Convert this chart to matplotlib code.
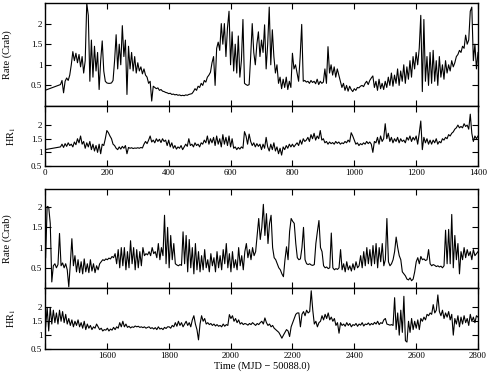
"""Two-epoch light curve: count rate and hardness ratio, split at day 1400."""

import matplotlib
matplotlib.use("Agg")
import matplotlib.pyplot as plt
import numpy as np

# ---- data (5-day steps, one row = 50 days) ----
# first epoch: one point at t=0, then 50 .. 1400
rate_a = [0.38,
    0.52, 0.62, 0.32, 0.60, 0.68, 0.62, 0.75, 1.00, 1.32, 1.10,
    1.28, 1.05, 1.25, 0.95, 1.20, 0.80, 1.10, 2.50, 2.20, 0.60,
    1.60, 0.70, 1.45, 0.85, 1.30, 0.40, 1.10, 1.58, 0.85, 0.60,
    0.56, 0.55, 0.55, 0.56, 0.62, 1.10, 1.73, 0.90, 1.50, 1.00,
    1.95, 1.20, 1.60, 0.28, 1.45, 0.90, 1.30, 0.85, 1.20, 0.80,
    1.05, 0.85, 0.95, 0.78, 0.90, 0.75, 0.70, 0.55, 0.60, 0.12,
    0.48, 0.45, 0.42, 0.44, 0.38, 0.40, 0.36, 0.35, 0.33, 0.32,
    0.30, 0.31, 0.28, 0.29, 0.27, 0.28, 0.26, 0.27, 0.25, 0.26,
    0.25, 0.27, 0.26, 0.28, 0.29, 0.30, 0.35, 0.42, 0.38, 0.48,
    0.45, 0.55, 0.50, 0.62, 0.58, 0.70, 0.75, 0.82, 1.05, 1.20,
    0.50, 1.40, 1.55, 1.35, 2.00, 1.50, 2.00, 1.20, 1.90, 2.30,
    1.00, 1.80, 0.85, 1.50, 0.80, 1.70, 0.70, 1.10, 2.10, 0.55,
    0.52, 0.50, 0.52, 1.20, 2.00, 1.30, 1.00, 1.50, 1.80, 1.20,
    1.60, 1.30, 1.97, 0.90, 1.50, 2.40, 1.00, 1.85, 1.20, 0.80,
    1.00, 0.55, 0.70, 0.42, 0.65, 0.45, 0.70, 0.40, 0.60, 0.45,
    1.28, 0.90, 1.00, 0.80, 0.60, 1.20, 1.98, 0.60, 0.62, 0.58,
    0.60, 0.55, 0.62, 0.57, 0.60, 0.54, 0.65, 0.52, 0.60, 0.55,
    0.58, 0.90, 0.55, 1.44, 0.80, 1.00, 0.75, 0.95, 0.70, 0.90,
    0.75, 0.60, 0.45, 0.55, 0.38, 0.50, 0.36, 0.48, 0.40, 0.35,
    0.42, 0.38, 0.45, 0.44, 0.48, 0.50, 0.47, 0.55, 0.60, 0.52,
    0.62, 0.68, 0.73, 0.45, 0.60, 0.38, 0.65, 0.42, 0.55, 0.40,
    0.60, 0.45, 0.70, 0.50, 0.80, 0.48, 0.75, 0.55, 0.90, 0.50,
    0.85, 0.60, 1.00, 0.55, 0.95, 0.65, 1.10, 0.70, 1.20, 0.90,
    1.30, 1.00, 1.40, 2.20, 0.35, 2.10, 0.60, 1.20, 0.50, 1.30,
    0.55, 1.35, 0.60, 1.10, 0.50, 1.20, 0.70, 1.00, 0.65, 1.10,
    0.80, 1.00, 0.85, 1.10, 0.95, 1.05, 1.20, 1.25, 1.35, 1.30,
    1.45, 1.40, 1.72, 1.50, 1.60, 2.30, 2.40, 1.10, 1.50, 0.90,
    1.30]

hr_a = [1.10,
    1.20, 1.30, 1.18, 1.32, 1.22, 1.35, 1.25, 1.30, 1.20, 1.38,
    1.28, 1.50, 1.35, 1.60, 1.30, 1.40, 1.15, 1.35, 1.20, 1.40,
    1.10, 1.30, 1.05, 1.25, 1.00, 1.30, 0.95, 1.30, 1.25, 1.50,
    1.80, 1.72, 1.60, 1.50, 1.30, 1.25, 1.15, 1.10, 1.20, 1.12,
    1.22, 1.15, 1.25, 0.95, 1.18, 1.15, 1.17, 1.14, 1.16, 1.15,
    1.17, 1.15, 1.18, 1.16, 1.30, 1.40, 1.32, 1.45, 1.60, 1.38,
    1.45, 1.35, 1.50, 1.40, 1.48, 1.36, 1.50, 1.40, 1.45, 1.25,
    1.45, 1.20, 1.35, 1.15, 1.25, 1.12, 1.20, 1.15, 1.25, 1.10,
    1.20, 1.30, 1.22, 1.50, 1.25, 1.30, 1.20, 1.35, 1.25, 1.30,
    1.20, 1.35, 1.30, 1.45, 1.35, 1.60, 1.30, 1.50, 1.35, 1.55,
    1.25, 1.60, 1.30, 1.50, 1.20, 1.65, 1.30, 1.55, 1.25, 1.60,
    1.20, 1.50, 1.15, 1.20, 1.10, 1.18, 1.12, 1.20, 1.15, 1.76,
    1.60, 1.30, 1.67, 1.40, 1.25, 1.35, 1.20, 1.32, 1.22, 1.30,
    1.10, 1.30, 1.15, 1.55, 1.20, 1.05, 1.30, 1.10, 1.35, 1.05,
    1.20, 0.95, 1.15, 0.90, 1.20, 1.10, 1.25, 1.15, 1.30, 1.20,
    1.30, 1.20, 1.28, 1.35, 1.25, 1.45, 1.30, 1.50, 1.40, 1.45,
    1.55, 1.40, 1.65, 1.50, 1.70, 1.45, 1.60, 1.50, 1.80, 1.45,
    1.50, 1.35, 1.40, 1.30, 1.38, 1.32, 1.36, 1.30, 1.40, 1.33,
    1.38, 1.30, 1.35, 1.32, 1.40, 1.35, 1.45, 1.38, 1.72, 1.60,
    1.45, 1.30, 1.35, 1.25, 1.32, 1.28, 1.35, 1.30, 1.40, 1.32,
    1.38, 1.30, 1.00, 1.40, 1.35, 1.55, 1.30, 1.60, 1.40, 1.50,
    2.05, 1.50, 1.70, 1.40, 1.55, 1.35, 1.50, 1.40, 1.55, 1.35,
    1.50, 1.40, 1.45, 1.35, 1.55, 1.45, 1.60, 1.40, 1.55, 1.45,
    1.60, 1.30, 1.70, 2.15, 1.10, 1.55, 1.35, 1.50, 1.30, 1.45,
    1.30, 1.45, 1.35, 1.50, 1.30, 1.40, 1.35, 1.50, 1.45, 1.55,
    1.50, 1.65, 1.60, 1.70, 1.75, 1.85, 1.90, 2.00, 1.90, 1.95,
    1.90, 2.05, 1.95, 2.00, 1.85, 2.40, 1.70, 1.40, 1.60, 1.50,
    1.60]

# second epoch: 1402 .. 2800
rate_b = [
    0.75, 2.02, 2.00, 1.60, 0.15, 0.55, 0.60, 0.50, 0.58, 1.35,
    0.55, 0.62, 0.50, 0.60, 0.45, 0.03, 0.60, 1.22, 0.55, 0.80,
    0.40, 0.70, 0.38, 0.65, 0.35, 0.72, 0.40, 0.60, 0.38, 0.70,
    0.42, 0.60, 0.38, 0.55, 0.45, 0.60, 0.65, 0.70, 0.68, 0.72,
    0.70, 0.74, 0.72, 0.78, 0.75, 0.85, 0.60, 0.95, 0.50, 1.00,
    0.55, 1.00, 0.45, 0.90, 0.50, 1.17, 0.60, 1.00, 0.45, 0.95,
    0.50, 0.90, 0.55, 1.00, 0.80, 0.85, 0.82, 0.90, 0.80, 1.00,
    0.85, 0.90, 0.75, 1.10, 0.70, 1.00, 0.80, 1.80, 0.60, 1.50,
    0.50, 1.30, 0.70, 1.10, 0.60, 0.57, 0.55, 0.58, 0.56, 1.39,
    0.60, 1.30, 0.40, 1.20, 0.50, 1.00, 0.35, 1.10, 0.45, 0.90,
    0.40, 0.80, 0.45, 0.95, 0.50, 0.70, 0.40, 0.85, 0.55, 0.75,
    0.40, 0.90, 0.50, 0.80, 0.45, 0.95, 0.60, 1.10, 0.50, 0.85,
    0.40, 0.90, 0.50, 0.70, 0.45, 1.00, 0.55, 0.80, 0.45, 0.90,
    1.10, 0.75, 0.95, 0.70, 1.00, 0.80, 0.90, 1.30, 1.72, 1.20,
    1.50, 2.07, 1.30, 1.84, 1.10, 1.60, 1.80, 1.00, 0.75, 0.70,
    0.60, 0.50, 0.45, 0.35, 0.28, 0.70, 1.02, 0.70, 1.40, 1.72,
    1.65, 1.60, 1.10, 0.75, 0.70, 0.72, 1.00, 1.50, 0.70, 0.60,
    0.58, 0.60, 0.57, 0.56, 0.58, 1.10, 1.40, 1.67, 1.00, 0.90,
    0.55, 0.50, 0.52, 0.48, 0.50, 1.36, 0.50, 0.45, 0.48, 0.46,
    0.50, 0.95, 0.45, 0.60, 0.40, 0.65, 0.45, 0.55, 0.42, 0.60,
    0.45, 0.65, 0.50, 0.55, 0.80, 0.50, 0.90, 0.55, 1.00, 0.60,
    0.95, 0.55, 1.05, 0.60, 1.10, 0.50, 1.00, 0.65, 1.10, 0.55,
    0.70, 1.72, 0.65, 0.55, 0.60, 0.70, 0.90, 1.26, 1.00, 0.80,
    0.70, 0.40, 0.35, 0.30, 0.22, 0.20, 0.25, 0.18, 0.22, 0.40,
    0.65, 0.75, 0.60, 0.78, 0.70, 0.72, 0.68, 0.70, 0.95, 0.60,
    0.55, 0.58, 0.56, 0.53, 0.55, 0.52, 0.54, 0.50, 0.55, 1.43,
    0.60, 1.45, 0.60, 1.82, 0.50, 1.30, 0.70, 1.10, 0.35, 0.90,
    0.70, 1.00, 0.75, 0.95, 0.80, 0.90, 0.70, 0.95, 0.80, 0.85,
    0.90]

hr_b = [
    1.30, 2.00, 1.15, 2.00, 1.40, 1.90, 1.45, 1.80, 1.40, 1.90,
    1.50, 1.85, 1.45, 1.75, 1.40, 1.60, 1.35, 1.55, 1.30, 1.50,
    1.35, 1.55, 1.30, 1.45, 1.25, 1.50, 1.20, 1.40, 1.25, 1.35,
    1.20, 1.30, 1.25, 1.40, 1.30, 1.20, 1.25, 1.15, 1.20, 1.18,
    1.25, 1.15, 1.22, 1.18, 1.28, 1.20, 1.30, 1.25, 1.45, 1.30,
    1.50, 1.30, 1.40, 1.28, 1.32, 1.26, 1.30, 1.28, 1.33, 1.30,
    1.32, 1.28, 1.30, 1.27, 1.30, 1.25, 1.28, 1.30, 1.24, 1.27,
    1.22, 1.27, 1.20, 1.30, 1.22, 1.25, 1.20, 1.28, 1.24, 1.30,
    1.30, 1.25, 1.35, 1.30, 1.45, 1.32, 1.50, 1.35, 1.45, 1.30,
    1.40, 1.50, 1.35, 1.45, 1.30, 1.55, 1.70, 1.40, 1.20, 0.83,
    1.40, 1.70, 1.50, 1.60, 1.40, 1.45, 1.38, 1.42, 1.35, 1.40,
    1.33, 1.38, 1.32, 1.35, 1.30, 1.40, 1.32, 1.38, 1.35, 1.74,
    1.60, 1.70, 1.50, 1.60, 1.45, 1.55, 1.40, 1.45, 1.38, 1.42,
    1.40, 1.36, 1.42, 1.38, 1.45, 1.40, 1.35, 1.42, 1.38, 1.45,
    1.50, 1.40, 1.62, 1.45, 1.35, 1.40, 1.30, 1.35, 1.25, 1.20,
    1.15, 1.10, 1.00, 0.89, 1.00, 1.10, 1.20, 1.15, 0.95, 1.30,
    1.45, 1.60, 1.75, 1.80, 1.80, 1.30, 1.75, 1.85, 1.70, 1.90,
    1.80, 1.85, 2.60, 1.90, 1.40, 1.50, 1.30, 1.45, 1.50, 1.70,
    1.55, 1.75, 1.60, 1.80, 1.55, 1.65, 1.50, 1.60, 1.35, 1.45,
    1.07, 1.45, 1.35, 1.40, 1.32, 1.45, 1.35, 1.42, 1.30, 1.38,
    1.35, 1.42, 1.32, 1.40, 1.36, 1.45, 1.33, 1.40, 1.38, 1.44,
    1.36, 1.42, 1.38, 1.46, 1.40, 1.50, 1.38, 1.45, 1.42, 1.55,
    1.60, 1.40, 1.38, 1.36, 1.38, 1.35, 2.35, 1.20, 1.80, 1.00,
    1.90, 1.10, 2.40, 0.80, 0.75, 1.50, 1.10, 1.60, 1.20, 1.50,
    1.25, 1.55, 1.20, 1.60, 1.50, 1.65, 1.55, 1.75, 1.70, 1.80,
    1.75, 2.10, 1.80, 1.90, 2.45, 1.85, 1.70, 1.90, 1.60, 1.80,
    1.65, 1.85, 1.55, 1.75, 1.00, 1.60, 1.40, 1.70, 1.30, 1.65,
    1.40, 1.70, 1.45, 1.60, 1.35, 1.75, 1.50, 1.65, 1.45, 1.70,
    1.65]

XLABEL = "Time (MJD \u2212 50088.0)"
RATE_LABEL = "Rate (Crab)"
HR_LABEL = "HR$_1$"


def epoch_a_time(vals):
    # lone point at day 0, then evenly sampled from day 50
    return np.concatenate([[0.0], np.linspace(50, 1400, len(vals) - 1)])


def style_axis(ax, xlim, ylim, yticks):
    ax.set_xlim(*xlim)
    ax.set_ylim(*ylim)
    ax.set_yticks(yticks)
    ax.set_yticklabels([f"{v:g}" for v in yticks])
    ax.set_xticks(np.arange(xlim[0], xlim[1] + 1, 200))
    ax.tick_params(direction="in", top=True, right=True, length=4,
                   width=0.8, labelsize=6.5, pad=2)
    for s in ax.spines.values():
        s.set_linewidth(1.0)


def main():
    plt.rcParams["font.family"] = ["Liberation Serif", "DejaVu Serif"]
    plt.rcParams["mathtext.fontset"] = "stix"

    fig = plt.figure(figsize=(4.91, 3.76), dpi=100)
    W = 491.0
    H = 376.0
    x0, x1 = 45, 478

    def add(top, bottom):
        return fig.add_axes([x0 / W, 1 - bottom / H, (x1 - x0) / W, (bottom - top) / H])

    ax1 = add(3, 106)
    ax2 = add(106, 166)
    ax3 = add(189, 288)
    ax4 = add(288, 349)

    t_a_rate = epoch_a_time(rate_a)
    t_a_hr = epoch_a_time(hr_a)
    t_b_rate = np.linspace(1402, 2800, len(rate_b))
    t_b_hr = np.linspace(1402, 2800, len(hr_b))

    lw = 0.8
    ax1.plot(t_a_rate, rate_a, color="black", lw=lw)
    ax2.plot(t_a_hr, hr_a, color="black", lw=lw)
    ax3.plot(t_b_rate, rate_b, color="black", lw=lw)
    ax4.plot(t_b_hr, hr_b, color="black", lw=lw)

    style_axis(ax1, (0, 1400), (0, 2.5), [0.5, 1, 1.5, 2])
    style_axis(ax2, (0, 1400), (0.5, 2.7), [0.5, 1, 1.5, 2])
    style_axis(ax3, (1400, 2800), (0, 2.45), [0.5, 1, 1.5, 2])
    style_axis(ax4, (1400, 2800), (0.5, 2.7), [0.5, 1, 1.5, 2])

    ax1.set_xticklabels([])
    ax3.set_xticklabels([])
    ax4.set_xticks(np.arange(1600, 2801, 200))
    ax4.set_xticks([1400], minor=True)
    ax4.tick_params(which="minor", direction="in", top=True, length=4, width=0.8)

    for ax in (ax1, ax3):
        ax.set_ylabel(RATE_LABEL, fontsize=7.5)
        ax.yaxis.set_label_coords(-0.077, 0.5)
    for ax in (ax2, ax4):
        ax.set_ylabel(HR_LABEL, fontsize=7.5)
        ax.yaxis.set_label_coords(-0.062, 0.5)

    ax4.set_xlabel(XLABEL, fontsize=7.5, labelpad=1)

    fig.savefig("out.png", dpi=100)
    plt.close(fig)


if __name__ == "__main__":
    main()
